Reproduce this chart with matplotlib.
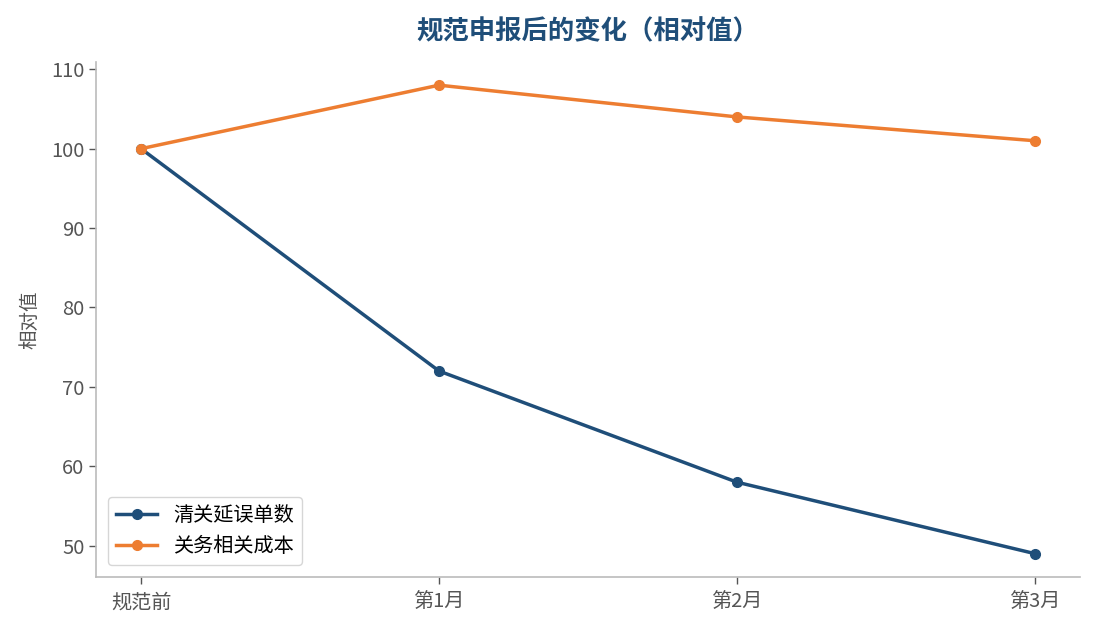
import matplotlib
matplotlib.use("Agg")
import matplotlib.pyplot as plt

plt.rcParams['font.family'] = ['Noto Sans CJK SC', 'DejaVu Sans']

# data
periods = ["规范前", "第1月", "第2月", "第3月"]
delay_orders = [100, 72, 58, 49]
customs_cost = [100, 108, 104, 101]

BLUE = "#1f4e79"
ORANGE = "#ed7d31"
GREY = "#555555"

fig = plt.figure(figsize=(10.95, 6.3), dpi=100)
ax = fig.add_axes([0.088, 0.084, 0.898, 0.818])

x = list(range(len(periods)))
ax.plot(x, delay_orders, color=BLUE, linewidth=2.5, marker="o", markersize=7, label="清关延误单数")
ax.plot(x, customs_cost, color=ORANGE, linewidth=2.5, marker="o", markersize=7, label="关务相关成本")

ax.set_xticks(x)
ax.set_xticklabels(periods)
ax.set_yticks([50, 60, 70, 80, 90, 100, 110])

for side in ["top", "right"]:
    ax.spines[side].set_visible(False)
for side in ["left", "bottom"]:
    ax.spines[side].set_color("#bbbbbb")
    ax.spines[side].set_linewidth(1.2)
ax.tick_params(colors=GREY, labelsize=14.5, length=5, width=1)
ax.tick_params(axis="x", pad=6)

ax.set_ylabel("相对值", color=GREY, fontsize=14, labelpad=8)
ax.set_title("规范申报后的变化（相对值）", color=BLUE, fontsize=19, fontweight="bold", pad=16)

leg = ax.legend(loc="lower left", fontsize=14.5, frameon=True, handlelength=2.0,
                borderaxespad=0.6)
leg.get_frame().set_edgecolor("#cccccc")

fig.savefig("out.png", dpi=100)
